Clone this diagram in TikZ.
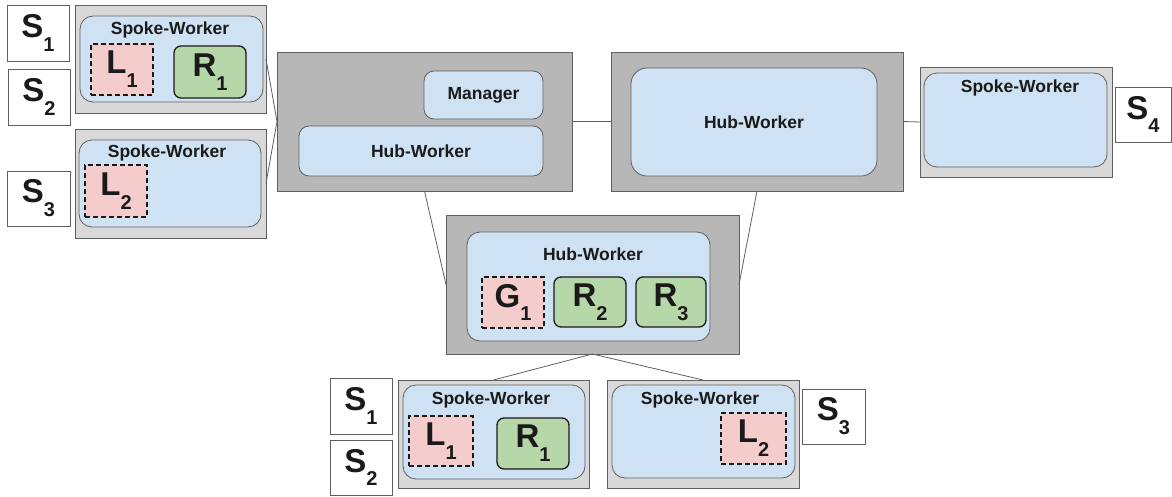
\documentclass[tikz,border=0pt]{standalone}
\usepackage{fontspec}
\setmainfont{Liberation Sans}
\usetikzlibrary{calc}
\definecolor{hubgray}{HTML}{B7B7B7}
\definecolor{spokegray}{HTML}{D9D9D9}
\definecolor{workerblue}{HTML}{CFE2F3}
\definecolor{localpink}{HTML}{F4CCCC}
\definecolor{remotegreen}{HTML}{B6D7A8}
\definecolor{edgegray}{HTML}{5F5F5F}
\definecolor{inkblack}{HTML}{1A1A1A}
% big symbol with a lowered index, e.g. S_1
\newcommand\symb[2]{#1\raisebox{-0.42em}{\fontsize{20}{20}\selectfont #2}}
\tikzset{
  box/.style={anchor=north west, inner sep=0pt, outer sep=0pt},
  hubbox/.style={box, fill=hubgray, draw=edgegray, line width=0.9pt},
  spokebox/.style={box, fill=spokegray, draw=edgegray, line width=0.9pt},
  workerbox/.style={box, fill=workerblue, draw=edgegray, line width=0.8pt, rounded corners=13pt},
  localbox/.style={box, fill=localpink, draw=inkblack, line width=1.2pt, dashed, dash pattern=on 5pt off 3pt},
  remotebox/.style={box, fill=remotegreen, draw=inkblack, line width=1.3pt, rounded corners=7pt},
  sourcebox/.style={box, fill=white, draw=edgegray, line width=0.9pt},
  lbl/.style={inner sep=0pt, text=inkblack, font=\fontsize{17.5}{17.5}\selectfont\bfseries},
  big/.style={inner sep=0pt, text=inkblack, font=\fontsize{33}{33}\selectfont\bfseries},
  link/.style={draw=edgegray, line width=0.8pt}
}
\begin{document}
\begin{tikzpicture}[x=1pt, y=-1pt]
\useasboundingbox (0,0) rectangle (1172,496);

% ---- left spokes ----
\node[sourcebox, minimum width=62pt, minimum height=56pt] (s1a) at (7,5) {};
\node[big] at (s1a.center) {\symb{S}{1}};
\node[sourcebox, minimum width=62pt, minimum height=56pt] (s2a) at (8,69) {};
\node[big] at (s2a.center) {\symb{S}{2}};
\node[sourcebox, minimum width=63pt, minimum height=55pt] (s3a) at (7,171) {};
\node[big] at (s3a.center) {\symb{S}{3}};

\node[spokebox, minimum width=191pt, minimum height=108pt] (spA) at (75,5) {};
\node[workerbox, minimum width=183pt, minimum height=86pt] (wA) at (80,16) {};
\node[lbl] at (170,30) {Spoke-Worker};
\node[localbox, minimum width=62pt, minimum height=51pt] (l1a) at (91,44) {};
\node[big] at (l1a.center) {\symb{L}{1}};
\node[remotebox, minimum width=72pt, minimum height=52pt] (r1a) at (174,46) {};
\node[big] at (r1a.center) {\symb{R}{1}};

\node[spokebox, minimum width=191pt, minimum height=109pt] (spB) at (75,129) {};
\node[workerbox, minimum width=182pt, minimum height=87pt] (wB) at (79,140) {};
\node[lbl] at (167,153) {Spoke-Worker};
\node[localbox, minimum width=62pt, minimum height=52pt] (l2a) at (85,165) {};
\node[big] at (l2a.center) {\symb{L}{2}};

% ---- hub with manager ----
\node[hubbox, minimum width=295pt, minimum height=139pt] (hubA) at (277,52) {};
\node[workerbox, rounded corners=10pt, minimum width=119pt, minimum height=48pt] (mgr) at (424,71) {};
\node[lbl] at (mgr.center) {Manager};
\node[workerbox, rounded corners=10pt, minimum width=244pt, minimum height=50pt] (hwA) at (299,126) {};
\node[lbl] at (hwA.center) {Hub-Worker};

% ---- second hub ----
\node[hubbox, minimum width=292pt, minimum height=139pt] (hubB) at (611,52) {};
\node[workerbox, rounded corners=16pt, minimum width=246pt, minimum height=108pt] (hwB) at (631,68) {};
\node[lbl] at (hwB.center) {Hub-Worker};

% ---- right spoke ----
\node[spokebox, minimum width=192pt, minimum height=110pt] (sp4) at (920,67) {};
\node[workerbox, minimum width=183pt, minimum height=94pt] (w4) at (924,73) {};
\node[lbl] at (1020,88) {Spoke-Worker};
\node[sourcebox, minimum width=56pt, minimum height=55pt] (s4) at (1115,87) {};
\node[big] at (s4.center) {\symb{S}{4}};

% ---- third hub ----
\node[hubbox, minimum width=293pt, minimum height=139pt] (hubC) at (446,215) {};
\node[workerbox, minimum width=243pt, minimum height=109pt] (hwC) at (467,232) {};
\node[lbl] at (593,254) {Hub-Worker};
\node[localbox, minimum width=62pt, minimum height=51pt] (g1) at (482,277) {};
\node[big] at (g1.center) {\symb{G}{1}};
\node[remotebox, minimum width=72pt, minimum height=50pt] (r2) at (554,277) {};
\node[big] at (r2.center) {\symb{R}{2}};
\node[remotebox, minimum width=70pt, minimum height=50pt] (r3) at (636,277) {};
\node[big] at (r3.center) {\symb{R}{3}};

% ---- bottom spokes ----
\node[sourcebox, minimum width=62pt, minimum height=56pt] (s1b) at (330,378) {};
\node[big] at (s1b.center) {\symb{S}{1}};
\node[sourcebox, minimum width=62pt, minimum height=55pt] (s2b) at (330,440) {};
\node[big] at (s2b.center) {\symb{S}{2}};

\node[spokebox, minimum width=191pt, minimum height=108pt] (spD) at (398,380) {};
\node[workerbox, minimum width=182pt, minimum height=94pt] (wD) at (403,385) {};
\node[lbl] at (491,400) {Spoke-Worker};
\node[localbox, minimum width=64pt, minimum height=50pt] (l1b) at (409,416) {};
\node[big] at (l1b.center) {\symb{L}{1}};
\node[remotebox, minimum width=72pt, minimum height=51pt] (r1b) at (497,418) {};
\node[big] at (r1b.center) {\symb{R}{1}};

\node[spokebox, minimum width=192pt, minimum height=108pt] (spE) at (607,380) {};
\node[workerbox, minimum width=183pt, minimum height=93pt] (wE) at (612,385) {};
\node[lbl] at (700,400) {Spoke-Worker};
\node[localbox, minimum width=65pt, minimum height=51pt] (l2b) at (721,413) {};
\node[big] at (l2b.center) {\symb{L}{2}};
\node[sourcebox, minimum width=63pt, minimum height=55pt] (s3b) at (802,389) {};
\node[big] at (s3b.center) {\symb{S}{3}};

% ---- links ----
\draw[link] (spA.east) -- (hubA.west) -- (spB.east);
\draw[link] (hubA.east) -- (hubB.west);
\draw[link] (hubB.east) -- (sp4.west);
\draw[link] (hubA.south) -- (hubC.west);
\draw[link] (hubB.south) -- (hubC.east);
\draw[link] (spD.north) -- (hubC.south) -- (spE.north);
\end{tikzpicture}
\end{document}
